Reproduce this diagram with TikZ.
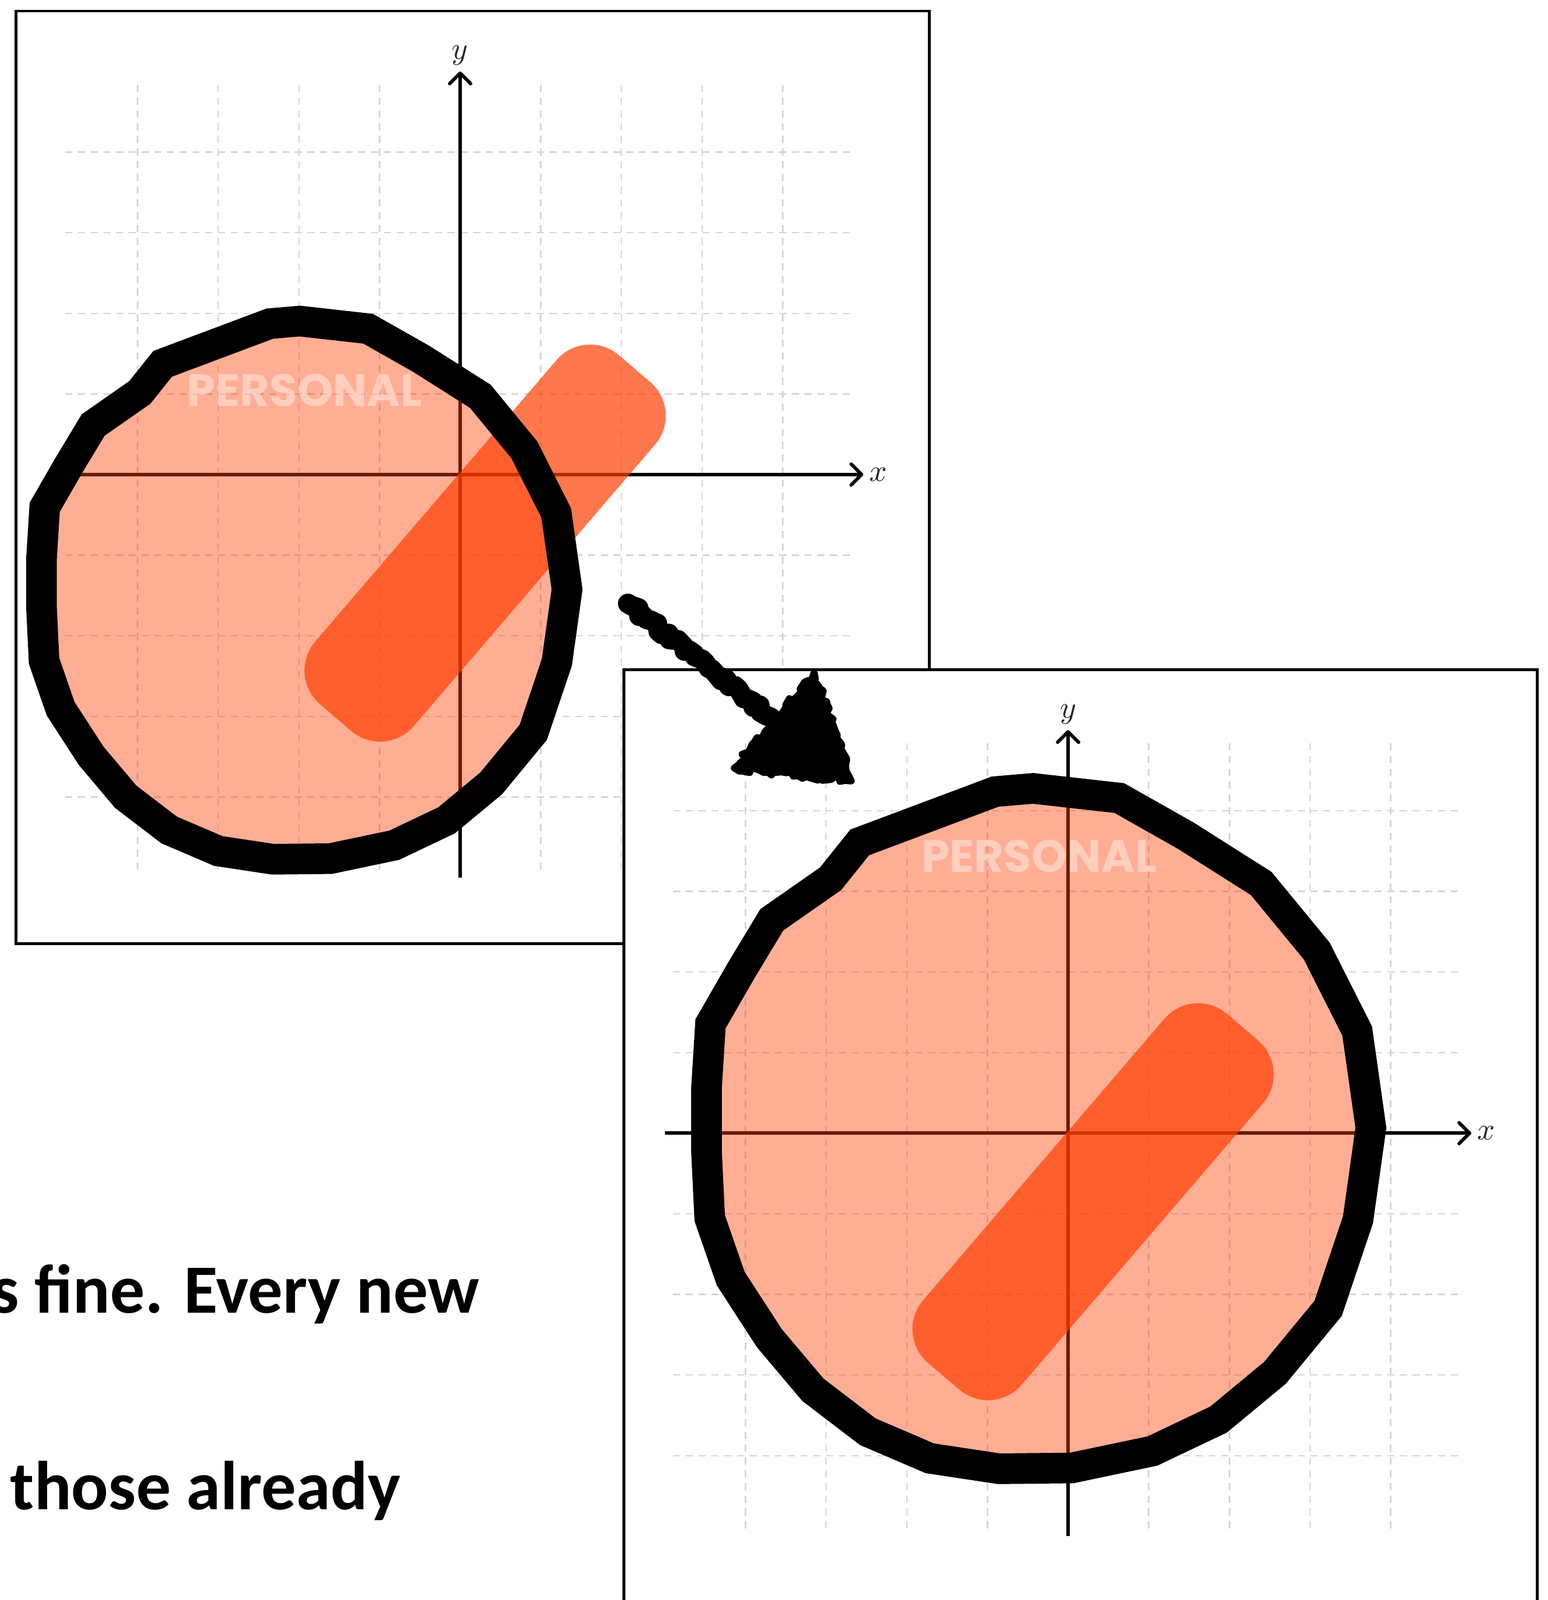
\documentclass[tikz,border=0pt]{standalone}
\usepackage{fontspec}
\newfontfamily\slidefont{Carlito}
\newfontfamily\tagfont{Poppins}
\usepackage{tikz}
\usetikzlibrary{arrows.meta, decorations.pathmorphing}

\definecolor{spaceorange}{RGB}{255,62,0}
\definecolor{gridgray}{RGB}{214,214,214}

% wobbly outline of the personal space, centred on (0,0)
\newcommand{\spaceoutline}[1]{%
  \path[#1] (-0.07,4.22) -- (1.00,4.10) -- (1.83,3.63) -- (2.76,3.04) -- (3.45,2.20)
    -- (3.95,1.21) -- (4.12,0.01) -- (3.96,-1.13) -- (3.59,-2.23) -- (2.93,-3.03)
    -- (2.23,-3.61) -- (1.41,-4.00) -- (0.41,-4.21) -- (-0.49,-4.22) -- (-1.35,-4.09)
    -- (-2.12,-3.76) -- (-2.80,-3.24) -- (-3.34,-2.60) -- (-3.82,-1.86) -- (-4.08,-1.11)
    -- (-4.12,-0.28) -- (-4.12,0.50) -- (-4.07,1.30) -- (-3.69,1.96) -- (-3.31,2.59)
    -- (-2.58,3.10) -- (-2.22,3.55) -- (-0.54,4.18) -- cycle;}

% #1 prefix, #2 centre of the space, #3 its scale, #4 where the tag sits
\newcommand{\drawpanel}[4]{%
  \draw[panelbox] (-5.51,-5.82) rectangle (5.82,5.75);
  \foreach \i in {-4,-3,-2,-1,1,2,3,4} {
    \draw[gridline] (\i,-4.9) -- (\i,4.9);
    \draw[gridline] (-4.9,\i) -- (4.9,\i);
  }
  \coordinate (#1xmin) at (-5,0);
  \coordinate (#1xmax) at (5,0);
  \coordinate (#1ymin) at (0,-5);
  \coordinate (#1ymax) at (0,5);
  \draw[axis] (#1xmin) -- (#1xmax);
  \draw[axis] (#1ymin) -- (#1ymax);
  \node[axislabel, right] (#1xlabel) at (#1xmax) {$x$};
  \node[axislabel, above] (#1ylabel) at (#1ymax) {$y$};
  \begin{scope}[shift={#2}, scale=#3]
    \spaceoutline{space}
  \end{scope}
  \node[stick] (#1stick) at (0.31,-0.85) {};
  \begin{scope}[shift={#2}, scale=#3]
    \spaceoutline{spaceedge}
  \end{scope}
  \node[tag] (#1tag) at #4 {PERSONAL};
}

\begin{document}
\begin{tikzpicture}
    \tikzstyle{gridline} = [gridgray, line width=0.5pt, dash pattern=on 2.5pt off 2pt]
    \tikzstyle{axis} = [line width=1.2pt, -{Straight Barb[length=1.3mm, width=2.6mm, round]}]
    \tikzstyle{axislabel} = [text=black!85, font=\fontsize{11}{13}\selectfont, inner sep=2pt]
    \tikzstyle{panelbox} = [draw, fill=white, line width=1pt]
    \tikzstyle{space} = [fill=spaceorange, fill opacity=0.42]
    \tikzstyle{spaceedge} = [draw=black, line width=0.38cm]
    \tikzstyle{stick} = [fill=spaceorange, fill opacity=0.7, rounded corners=0.55cm, rotate=49.4,
        minimum width=5.7cm, minimum height=1.61cm, inner sep=0pt]
    \tikzstyle{tag} = [text=white, text opacity=0.4, anchor=base,
        font=\tagfont\bfseries\fontsize{16}{19}\selectfont]
    \tikzstyle{scribble} = [decorate, decoration={random steps, segment length=1.6pt, amplitude=1.1pt},
        line join=round, line cap=round]
    \tikzstyle{slidetext} = [anchor=base west, inner sep=0pt,
        font=\slidefont\bfseries\fontsize{24.4}{29}\selectfont]

    \useasboundingbox (-5.707,-13.961) rectangle (13.485,5.887);
    \clip (-5.707,-13.961) rectangle (13.485,5.887);
    \fill[white] (-5.707,-13.961) rectangle (13.485,5.887);

    % before
    \drawpanel{l}{(-1.933,-1.434)}{0.791}{(-1.93,0.851)}

    \node[slidetext] (lineone) at (-5.82,-10.40) {s fine. Every new};
    \node[slidetext] (linetwo) at (-5.585,-12.84) {those already};

    % after
    \begin{scope}[shift={(7.54,-8.17)}]
        \drawpanel{r}{(-0.365,0.057)}{1}{(-0.36,3.24)}
    \end{scope}

    % hand drawn arrow
    \coordinate (tail) at (2.08,-1.60);
    \coordinate (neck) at (3.90,-3.05);
    \coordinate (tip) at (4.85,-3.80);
    \coordinate (wingup) at (4.39,-2.46);
    \coordinate (wingdown) at (3.40,-3.64);
    \draw[scribble, line width=7pt] (tail) -- (neck);
    \filldraw[scribble, line width=2.5pt] (wingup) -- (tip) -- (wingdown) -- cycle;
\end{tikzpicture}
\end{document}
